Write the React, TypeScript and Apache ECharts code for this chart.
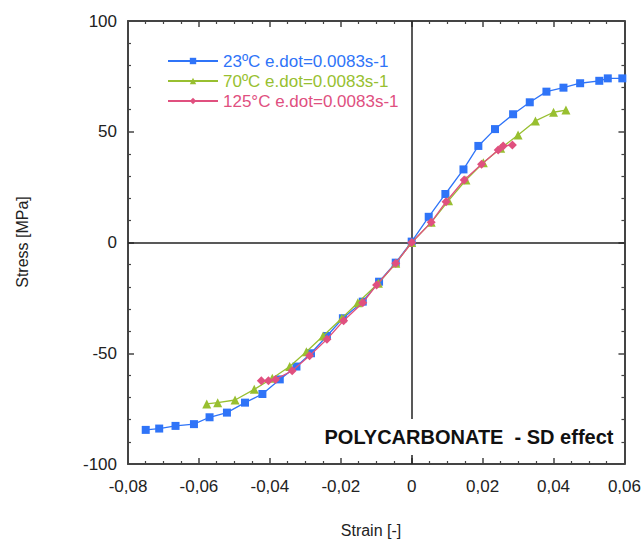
import React, { useEffect, useRef } from "react";
import * as echarts from "echarts";

const seriesNames = ["23ºC e.dot=0.0083s-1", "70ºC e.dot=0.0083s-1", "125°C e.dot=0.0083s-1"];

const strain23 = [-0.075, -0.0712, -0.0666, -0.0614, -0.057, -0.0521, -0.047, -0.0421, -0.0372, -0.0325, -0.0284, -0.0239, -0.0194, -0.0138, -0.0092, -0.0045, 0, 0.0048, 0.0095, 0.0146, 0.0188, 0.0235, 0.0286, 0.0333, 0.038, 0.0428, 0.0475, 0.0529, 0.0553, 0.0594];
const stress23 = [-84.6, -84, -82.8, -82, -78.9, -76.8, -72.3, -68.4, -61.8, -56, -50, -42.2, -34.2, -26.7, -17.7, -9.1, 0.4, 11.6, 21.9, 33, 43.6, 51.2, 57.9, 63.3, 68.1, 69.9, 71.9, 73, 74.1, 74.1];

const strain70 = [-0.0578, -0.0547, -0.0498, -0.0444, -0.0393, -0.0344, -0.0297, -0.025, -0.0197, -0.0152, -0.0094, -0.0045, 0, 0.0055, 0.0104, 0.0153, 0.0202, 0.0251, 0.03, 0.0349, 0.04, 0.0435];
const stress70 = [-72.9, -72.3, -71.1, -66.3, -61.3, -56, -49.3, -42.2, -34.2, -27.2, -18.4, -9.4, 0, 9.1, 18.9, 28.2, 36, 42.5, 48.5, 54.9, 58.8, 59.8];

const strain125 = [-0.0424, -0.0404, -0.0384, -0.0337, -0.0288, -0.0239, -0.0192, -0.0138, -0.0099, -0.0045, 0, 0.0055, 0.0097, 0.0148, 0.0197, 0.0244, 0.0258, 0.0284];
const stress125 = [-62.4, -62.4, -61.8, -57.9, -51.1, -43.7, -35.3, -27.2, -19.2, -9.4, 0, 9.1, 18.4, 28.2, 35.3, 41.8, 43.6, 44];

const colors = ["#2f74f8", "#98bf30", "#e0507f"];
const FONT = '"Liberation Sans", Arial, sans-serif';

const pairs = (xs: number[], ys: number[]) => xs.map((x, i) => [x, ys[i]]);

export default function App() {
  const ref = useRef<HTMLDivElement>(null);
  useEffect(() => {
    if (!ref.current) return;
    const chart = echarts.init(ref.current, null, { renderer: "svg" });
    const axisLine = { show: true, onZero: false, lineStyle: { color: "#444", width: 2 } };
    const tick = { show: true, inside: true, length: 6, lineStyle: { color: "#444", width: 1.5 } };
    const xMinor = { show: true, splitNumber: 4, length: 3, lineStyle: { color: "#444", width: 1.2 } };
    const yMinor = { show: true, splitNumber: 5, length: 3, lineStyle: { color: "#444", width: 1.2 } };
    const xFmt = (v: number) => (Math.abs(v) < 1e-9 ? "0" : v.toFixed(2).replace(".", ","));
    chart.setOption({
      animation: false,
      textStyle: { fontFamily: FONT },
      grid: { left: 128, right: 16, top: 21, bottom: 75, containLabel: false },
      legend: {
        orient: "vertical",
        left: 162,
        top: 47,
        itemWidth: 50,
        itemHeight: 8,
        itemGap: 2,
        textStyle: { fontSize: 17, lineHeight: 18, fontFamily: FONT },
        data: seriesNames.map((n, i) => ({ name: n, textStyle: { color: colors[i] } })),
      },
      xAxis: [
        {
          type: "value", min: -0.08, max: 0.06, interval: 0.02, position: "bottom",
          axisLine, axisTick: tick, minorTick: xMinor, splitLine: { show: false },
          axisLabel: { formatter: xFmt, fontSize: 17, color: "#222", margin: 14, fontFamily: FONT },
        },
        {
          type: "value", min: -0.08, max: 0.06, interval: 0.02, position: "top",
          axisLine, axisTick: tick, minorTick: xMinor, splitLine: { show: false },
          axisLabel: { show: false },
        },
      ],
      yAxis: [
        {
          type: "value", min: -100, max: 100, interval: 50, position: "left",
          axisLine, axisTick: tick, minorTick: yMinor, splitLine: { show: false },
          axisLabel: { fontSize: 17, color: "#222", margin: 11, fontFamily: FONT },
        },
        {
          type: "value", min: -100, max: 100, interval: 50, position: "right",
          axisLine, axisTick: tick, minorTick: yMinor, splitLine: { show: false },
          axisLabel: { show: false },
        },
      ],
      graphic: [
        {
          type: "rect", z: 100, silent: true,
          shape: { x: 318, y: 419, width: 300, height: 36 },
          style: { fill: "#ffffff" },
        },
        {
          type: "text", z: 101, x: 469, y: 437, silent: true,
          style: {
            text: "POLYCARBONATE  - SD effect", fill: "#111",
            font: `bold 20px ${FONT}`, align: "center", verticalAlign: "middle",
          },
        },
        {
          type: "text", x: 371, y: 530, silent: true,
          style: { text: "Strain [-]", fill: "#222", font: `16px ${FONT}`, align: "center", verticalAlign: "middle" },
        },
        {
          type: "text", x: 22, y: 242, rotation: Math.PI / 2, silent: true,
          style: { text: "Stress [MPa]", fill: "#222", font: `16px ${FONT}`, align: "center", verticalAlign: "middle" },
        },
      ],
      series: [
        {
          name: seriesNames[0], type: "line", data: pairs(strain23, stress23),
          symbol: "rect", symbolSize: 8, color: colors[0],
          lineStyle: { width: 1.3, color: colors[0] }, itemStyle: { color: colors[0] },
          z: 3,
          markLine: {
            silent: true, symbol: ["none", "none"], label: { show: false },
            lineStyle: { color: "#222", width: 1.5, type: "solid" },
            data: [{ xAxis: 0 }, { yAxis: 0 }],
            z: 1,
          },
        },
        {
          name: seriesNames[1], type: "line", data: pairs(strain70, stress70),
          symbol: "triangle", symbolSize: 9, color: colors[1],
          lineStyle: { width: 1.3, color: colors[1] }, itemStyle: { color: colors[1] },
          z: 4,
        },
        {
          name: seriesNames[2], type: "line", data: pairs(strain125, stress125),
          symbol: "diamond", symbolSize: 9, color: colors[2],
          lineStyle: { width: 1.3, color: colors[2] }, itemStyle: { color: colors[2] },
          z: 5,
        },
      ],
    });
    return () => chart.dispose();
  }, []);
  return <div ref={ref} style={{ position: "absolute", left: 0, top: 0, width: 644, height: 539 }} />;
}
